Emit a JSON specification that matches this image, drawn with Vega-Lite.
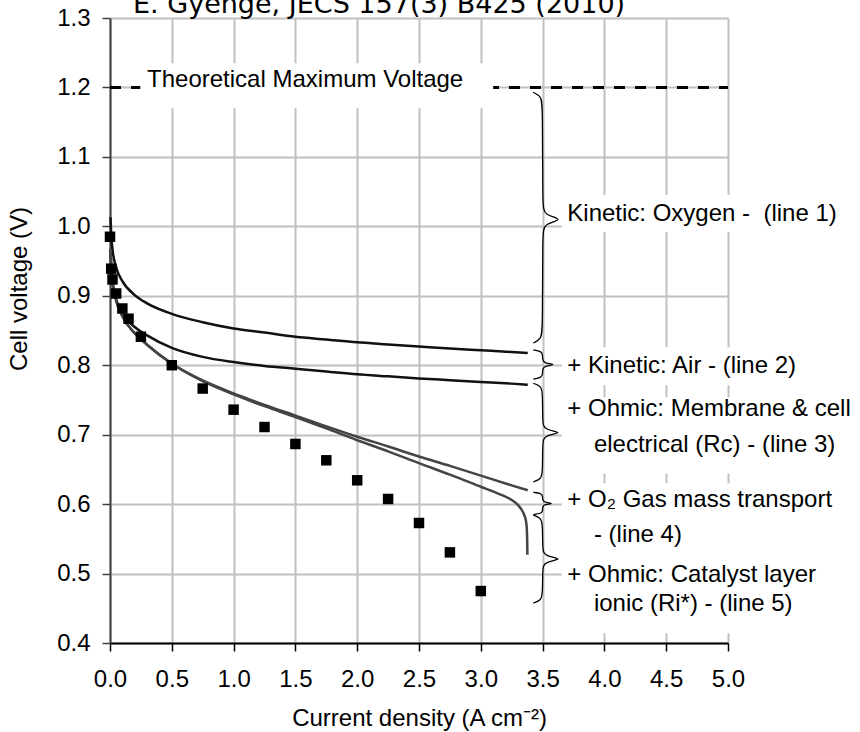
{
  "$schema": "https://vega.github.io/schema/vega-lite/v6.json",
  "width": 618,
  "height": 625,
  "autosize": "none",
  "padding": {"left": 110, "top": 18, "right": 132, "bottom": 89},
  "background": "white",
  "title": {
    "text": "E. Gyenge, JECS 157(3) B425 (2010)",
    "font": "DejaVu Sans",
    "fontSize": 27,
    "fontWeight": "normal",
    "color": "#000",
    "anchor": "start",
    "frame": "group",
    "baseline": "alphabetic",
    "offset": -34,
    "dx": 23
  },
  "config": {
    "view": {"stroke": null},
    "axis": {
      "grid": true,
      "gridColor": "#c0c0c0",
      "gridWidth": 2,
      "labelFont": "Liberation Sans",
      "labelFontSize": 24,
      "labelColor": "#000",
      "labelFlush": false,
      "labelOverlap": false,
      "titleFont": "Liberation Sans",
      "titleFontSize": 24,
      "titleFontWeight": "normal",
      "titleColor": "#000",
      "tickSize": 8,
      "tickWidth": 1.5
    },
    "axisX": {
      "domainColor": "#000",
      "domainWidth": 2,
      "tickColor": "#000",
      "labelPadding": 16,
      "titleY": 82,
      "titleBaseline": "alphabetic"
    },
    "axisY": {
      "domainColor": "#404040",
      "domainWidth": 2,
      "tickColor": "#404040",
      "labelPadding": 12,
      "titleX": -83.5,
      "titleY": 270.5,
      "titleBaseline": "alphabetic",
      "titleAlign": "center"
    }
  },
  "datasets": {
    "curves": [
      {"s": "line 1", "x": 0.004, "y": 1.013}, {"s": "line 1", "x": 0.01, "y": 0.987}, {"s": "line 1", "x": 0.02, "y": 0.967}, {"s": "line 1", "x": 0.05, "y": 0.941}, {"s": "line 1", "x": 0.1, "y": 0.921}, {"s": "line 1", "x": 0.2, "y": 0.901}, {"s": "line 1", "x": 0.3, "y": 0.889}, {"s": "line 1", "x": 0.5, "y": 0.874}, {"s": "line 1", "x": 0.75, "y": 0.862}, {"s": "line 1", "x": 1, "y": 0.853}, {"s": "line 1", "x": 1.25, "y": 0.847}, {"s": "line 1", "x": 1.5, "y": 0.841}, {"s": "line 1", "x": 1.75, "y": 0.837}, {"s": "line 1", "x": 2, "y": 0.833}, {"s": "line 1", "x": 2.25, "y": 0.83}, {"s": "line 1", "x": 2.5, "y": 0.827}, {"s": "line 1", "x": 2.75, "y": 0.824}, {"s": "line 1", "x": 3, "y": 0.8215}, {"s": "line 1", "x": 3.25, "y": 0.819}, {"s": "line 1", "x": 3.38, "y": 0.8175},
      {"s": "line 2", "x": 0.004, "y": 0.967}, {"s": "line 2", "x": 0.01, "y": 0.941}, {"s": "line 2", "x": 0.02, "y": 0.921}, {"s": "line 2", "x": 0.05, "y": 0.895}, {"s": "line 2", "x": 0.1, "y": 0.875}, {"s": "line 2", "x": 0.2, "y": 0.855}, {"s": "line 2", "x": 0.3, "y": 0.843}, {"s": "line 2", "x": 0.5, "y": 0.825}, {"s": "line 2", "x": 0.75, "y": 0.812}, {"s": "line 2", "x": 1, "y": 0.8045}, {"s": "line 2", "x": 1.25, "y": 0.799}, {"s": "line 2", "x": 1.5, "y": 0.795}, {"s": "line 2", "x": 1.75, "y": 0.791}, {"s": "line 2", "x": 2, "y": 0.787}, {"s": "line 2", "x": 2.25, "y": 0.784}, {"s": "line 2", "x": 2.5, "y": 0.781}, {"s": "line 2", "x": 2.75, "y": 0.7785}, {"s": "line 2", "x": 3, "y": 0.776}, {"s": "line 2", "x": 3.25, "y": 0.7735}, {"s": "line 2", "x": 3.38, "y": 0.772},
      {"s": "line 3", "x": 0.004, "y": 0.967}, {"s": "line 3", "x": 0.01, "y": 0.9405}, {"s": "line 3", "x": 0.02, "y": 0.92}, {"s": "line 3", "x": 0.05, "y": 0.893}, {"s": "line 3", "x": 0.1, "y": 0.8705}, {"s": "line 3", "x": 0.2, "y": 0.846}, {"s": "line 3", "x": 0.3, "y": 0.8295}, {"s": "line 3", "x": 0.5, "y": 0.8025}, {"s": "line 3", "x": 0.75, "y": 0.778}, {"s": "line 3", "x": 1, "y": 0.7595}, {"s": "line 3", "x": 1.25, "y": 0.743}, {"s": "line 3", "x": 1.5, "y": 0.7275}, {"s": "line 3", "x": 1.75, "y": 0.712}, {"s": "line 3", "x": 2, "y": 0.697}, {"s": "line 3", "x": 2.25, "y": 0.683}, {"s": "line 3", "x": 2.5, "y": 0.6685}, {"s": "line 3", "x": 2.75, "y": 0.655}, {"s": "line 3", "x": 3, "y": 0.641}, {"s": "line 3", "x": 3.25, "y": 0.627}, {"s": "line 3", "x": 3.38, "y": 0.62},
      {"s": "line 4", "x": 0.004, "y": 0.967}, {"s": "line 4", "x": 0.01, "y": 0.9405}, {"s": "line 4", "x": 0.02, "y": 0.92}, {"s": "line 4", "x": 0.05, "y": 0.893}, {"s": "line 4", "x": 0.1, "y": 0.8705}, {"s": "line 4", "x": 0.2, "y": 0.846}, {"s": "line 4", "x": 0.3, "y": 0.8295}, {"s": "line 4", "x": 0.5, "y": 0.802}, {"s": "line 4", "x": 0.75, "y": 0.777}, {"s": "line 4", "x": 1, "y": 0.758}, {"s": "line 4", "x": 1.25, "y": 0.741}, {"s": "line 4", "x": 1.5, "y": 0.7255}, {"s": "line 4", "x": 1.75, "y": 0.709}, {"s": "line 4", "x": 2, "y": 0.692}, {"s": "line 4", "x": 2.25, "y": 0.676}, {"s": "line 4", "x": 2.5, "y": 0.659}, {"s": "line 4", "x": 2.75, "y": 0.6425}, {"s": "line 4", "x": 3, "y": 0.625}, {"s": "line 4", "x": 3.15, "y": 0.6145}, {"s": "line 4", "x": 3.25, "y": 0.606}, {"s": "line 4", "x": 3.3, "y": 0.599}, {"s": "line 4", "x": 3.33, "y": 0.592}, {"s": "line 4", "x": 3.35, "y": 0.585}, {"s": "line 4", "x": 3.365, "y": 0.576}, {"s": "line 4", "x": 3.372, "y": 0.565}, {"s": "line 4", "x": 3.375, "y": 0.55}, {"s": "line 4", "x": 3.377, "y": 0.527}
    ],
    "measured": [
      {"x": 0, "y": 0.985}, {"x": 0.01, "y": 0.939}, {"x": 0.02, "y": 0.9235}, {"x": 0.05, "y": 0.9033}, {"x": 0.1, "y": 0.8817}, {"x": 0.15, "y": 0.867}, {"x": 0.25, "y": 0.841}, {"x": 0.5, "y": 0.8}, {"x": 0.75, "y": 0.7664}, {"x": 1, "y": 0.736}, {"x": 1.25, "y": 0.711}, {"x": 1.5, "y": 0.6866}, {"x": 1.75, "y": 0.6631}, {"x": 2, "y": 0.6343}, {"x": 2.25, "y": 0.6074}, {"x": 2.5, "y": 0.5728}, {"x": 2.75, "y": 0.5305}, {"x": 3, "y": 0.4748}
    ],
    "boxes": [
      {"x": 0.245, "x2": 3.1, "y": 1.17, "y2": 1.235},
      {"x": 3.655, "x2": 5.05, "y": 0.992, "y2": 1.045},
      {"x": 3.655, "x2": 5.05, "y": 0.771, "y2": 0.826},
      {"x": 3.655, "x2": 5.05, "y": 0.644, "y2": 0.754},
      {"x": 3.655, "x2": 5.05, "y": 0.414, "y2": 0.63}
    ],
    "labels": [
      {"x": 0.3, "y": 1.2, "label": "Theoretical Maximum Voltage"},
      {"x": 3.7, "y": 1.008, "label": "Kinetic: Oxygen -\u00a0 (line 1)"},
      {"x": 3.7, "y": 0.789, "label": "+ Kinetic: Air - (line 2)"},
      {"x": 3.7, "y": 0.7265, "label": "+ Ohmic: Membrane & cell"},
      {"x": 3.915, "y": 0.675, "label": "electrical (Rc) - (line 3)"},
      {"x": 3.7, "y": 0.5954, "label": "+ O₂ Gas mass transport"},
      {"x": 3.915, "y": 0.5454, "label": "- (line 4)"},
      {"x": 3.7, "y": 0.4878, "label": "+ Ohmic: Catalyst layer"},
      {"x": 3.915, "y": 0.446, "label": "ionic (Ri*) - (line 5)"}
    ],
    "braces": [
      {"b": 1, "i": 1, "x": 3.425, "y": 1.193}, {"b": 1, "i": 2, "x": 3.49, "y": 1.187}, {"b": 1, "i": 3, "x": 3.5, "y": 1.173}, {"b": 1, "i": 4, "x": 3.5, "y": 1.03}, {"b": 1, "i": 5, "x": 3.51, "y": 1.016}, {"b": 1, "i": 6, "x": 3.68, "y": 1.01}, {"b": 1, "i": 7, "x": 3.51, "y": 1.004}, {"b": 1, "i": 8, "x": 3.5, "y": 0.99}, {"b": 1, "i": 9, "x": 3.5, "y": 0.852}, {"b": 1, "i": 10, "x": 3.49, "y": 0.838}, {"b": 1, "i": 11, "x": 3.425, "y": 0.832},
      {"b": 2, "i": 1, "x": 3.425, "y": 0.822}, {"b": 2, "i": 2, "x": 3.49, "y": 0.82}, {"b": 2, "i": 3, "x": 3.5, "y": 0.815}, {"b": 2, "i": 4, "x": 3.5, "y": 0.808}, {"b": 2, "i": 5, "x": 3.51, "y": 0.803}, {"b": 2, "i": 6, "x": 3.62, "y": 0.801}, {"b": 2, "i": 7, "x": 3.51, "y": 0.799}, {"b": 2, "i": 8, "x": 3.5, "y": 0.794}, {"b": 2, "i": 9, "x": 3.5, "y": 0.787}, {"b": 2, "i": 10, "x": 3.49, "y": 0.782}, {"b": 2, "i": 11, "x": 3.425, "y": 0.78},
      {"b": 3, "i": 1, "x": 3.425, "y": 0.774}, {"b": 3, "i": 2, "x": 3.49, "y": 0.77}, {"b": 3, "i": 3, "x": 3.5, "y": 0.759}, {"b": 3, "i": 4, "x": 3.5, "y": 0.718}, {"b": 3, "i": 5, "x": 3.51, "y": 0.707}, {"b": 3, "i": 6, "x": 3.68, "y": 0.703}, {"b": 3, "i": 7, "x": 3.51, "y": 0.699}, {"b": 3, "i": 8, "x": 3.5, "y": 0.688}, {"b": 3, "i": 9, "x": 3.5, "y": 0.647}, {"b": 3, "i": 10, "x": 3.49, "y": 0.636}, {"b": 3, "i": 11, "x": 3.425, "y": 0.632},
      {"b": 4, "i": 1, "x": 3.425, "y": 0.617}, {"b": 4, "i": 2, "x": 3.49, "y": 0.6155}, {"b": 4, "i": 3, "x": 3.5, "y": 0.612}, {"b": 4, "i": 4, "x": 3.5, "y": 0.606}, {"b": 4, "i": 5, "x": 3.51, "y": 0.6025}, {"b": 4, "i": 6, "x": 3.6, "y": 0.601}, {"b": 4, "i": 7, "x": 3.51, "y": 0.5995}, {"b": 4, "i": 8, "x": 3.5, "y": 0.596}, {"b": 4, "i": 9, "x": 3.5, "y": 0.59}, {"b": 4, "i": 10, "x": 3.49, "y": 0.5865}, {"b": 4, "i": 11, "x": 3.425, "y": 0.585},
      {"b": 5, "i": 1, "x": 3.425, "y": 0.584}, {"b": 5, "i": 2, "x": 3.49, "y": 0.58}, {"b": 5, "i": 3, "x": 3.5, "y": 0.569}, {"b": 5, "i": 4, "x": 3.5, "y": 0.536}, {"b": 5, "i": 5, "x": 3.51, "y": 0.525}, {"b": 5, "i": 6, "x": 3.68, "y": 0.521}, {"b": 5, "i": 7, "x": 3.51, "y": 0.517}, {"b": 5, "i": 8, "x": 3.5, "y": 0.506}, {"b": 5, "i": 9, "x": 3.5, "y": 0.4725}, {"b": 5, "i": 10, "x": 3.49, "y": 0.4615}, {"b": 5, "i": 11, "x": 3.425, "y": 0.4575}
    ],
    "reference": [{"x": 0, "y": 1.2}, {"x": 5, "y": 1.2}]
  },
  "encoding": {
    "x": {"field": "x", "type": "quantitative", "scale": {"domain": [0, 5], "nice": false, "zero": false},
      "axis": {"values": [0, 0.5, 1, 1.5, 2, 2.5, 3, 3.5, 4, 4.5, 5], "format": ".1f", "title": "Current density (A cm⁻²)"}},
    "y": {"field": "y", "type": "quantitative", "scale": {"domain": [0.4, 1.3], "nice": false, "zero": false},
      "axis": {"values": [0.4, 0.5, 0.6, 0.7, 0.8, 0.9, 1.0, 1.1, 1.2, 1.3], "format": ".1f", "title": "Cell voltage (V)"}}
  },
  "layer": [
    {
      "data": {"name": "reference"},
      "mark": {"type": "line", "color": "#000", "strokeWidth": 3, "strokeDash": [11, 10]}
    },
    {
      "data": {"name": "boxes"},
      "mark": {"type": "rect", "fill": "white", "stroke": null},
      "encoding": {
        "x2": {"field": "x2"},
        "y2": {"field": "y2"}
      }
    },
    {
      "data": {"name": "labels"},
      "mark": {"type": "text", "align": "left", "baseline": "alphabetic", "font": "Liberation Sans", "fontSize": 24, "color": "#000"},
      "encoding": {
        "text": {"field": "label"}
      }
    },
    {
      "data": {"name": "braces"},
      "mark": {"type": "line", "interpolate": "basis", "color": "#000", "strokeWidth": 1.3},
      "encoding": {
        "detail": {"field": "b"},
        "order": {"field": "i", "type": "quantitative"}
      }
    },
    {
      "data": {"name": "curves"},
      "mark": {"type": "line", "interpolate": "monotone"},
      "encoding": {
        "color": {"field": "s", "type": "nominal", "scale": {"domain": ["line 1", "line 2", "line 3", "line 4"], "range": ["#111111", "#111111", "#444444", "#444444"]}, "legend": null},
        "strokeWidth": {"field": "s", "type": "nominal", "scale": {"domain": ["line 1", "line 2", "line 3", "line 4"], "range": [2.5, 2.5, 3, 3]}, "legend": null}
      }
    },
    {
      "data": {"name": "measured"},
      "mark": {"type": "point", "shape": "square", "filled": true, "color": "#000", "size": 110, "opacity": 1}
    }
  ]
}
